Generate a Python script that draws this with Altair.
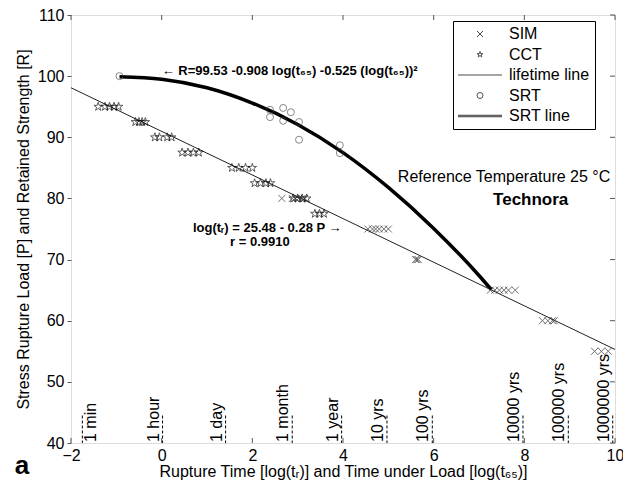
import altair as alt
import pandas as pd

FONT = "Liberation Sans"
W, H = 544, 428

# ---------------- data ----------------
x_ticks = [-2, 0, 2, 4, 6, 8, 10]
y_ticks = [40, 50, 60, 70, 80, 90, 100, 110]

cct_x = [-1.40, -1.25, -1.15, -1.05, -0.95,
         -0.58, -0.50, -0.43, -0.36,
         -0.15, -0.05, 0.12, 0.22,
         0.45, 0.58, 0.70, 0.82,
         1.55, 1.70, 1.85, 2.00,
         2.05, 2.18, 2.30, 2.40,
         2.90, 3.00, 3.10, 3.20,
         3.38, 3.48, 3.58]
cct_y = [95, 95, 95, 95, 95,
         92.5, 92.5, 92.5, 92.5,
         90, 90, 90, 90,
         87.5, 87.5, 87.5, 87.5,
         85, 85, 85, 85,
         82.5, 82.5, 82.5, 82.5,
         80, 80, 80, 80,
         77.5, 77.5, 77.5]

sim_x = [2.65, 2.88, 2.95, 3.02, 3.10, 3.15,
         4.55, 4.65, 4.72, 4.80, 4.90, 5.00,
         5.60, 5.63, 5.66,
         7.25, 7.35, 7.45, 7.55, 7.65, 7.80,
         8.40, 8.52, 8.62, 8.66,
         9.55, 9.70, 9.85]
sim_y = [80, 80, 80, 80, 80, 80,
         75, 75, 75, 75, 75, 75,
         70, 70, 70,
         65, 65, 65, 65, 65, 65,
         60, 60, 60, 60,
         55, 55, 55]

srt_x = [-0.93, 2.39, 2.39, 2.68, 2.68, 2.85, 3.03, 3.03, 3.93, 3.93]
srt_y = [100.0, 94.5, 93.3, 94.8, 92.7, 94.1, 92.5, 89.6, 88.7, 87.4]

life_x = [-2, 10]
life_y = [98.1, 55.3]

srtline_x = [-0.93, 0, 1, 2, 3, 4, 5, 6, 7, 7.27]
srtline_y = [99.9, 99.5, 98.1, 95.6, 92.1, 87.5, 81.8, 75.1, 67.4, 65.1]

marker_labels = ["1 min", "1 hour", "1 day", "1 month", "1 year", "10 yrs",
                 "100 yrs", "10000 yrs", "100000 yrs", "1000000 yrs"]
marker_x = [-1.75, 0.02, 1.41, 2.88, 3.97, 4.97, 5.97, 7.97, 8.97, 9.95]
marker_top = 44.5

legend_names = ["SIM", "CCT", "lifetime line", "SRT", "SRT line"]

ann_bold_text = ["\u2190 R=99.53 -0.908 log(t\u2086\u2085) -0.525 (log(t\u2086\u2085))\u00b2",
                 "log(t\u1d63) = 25.48 - 0.28 P \u2192",
                 "r = 0.9910"]
ann_bold_x = [0.0, 0.69, 1.51]
ann_bold_y = [100.8, 75.2, 72.9]

ref_text = ["Reference Temperature 25 \u00b0C"]
ref_x = [5.21]
ref_y = [83.5]
mat_text = ["Technora"]
mat_x = [7.31]
mat_y = [79.7]

# ---------------- styles ----------------
X_PATH = "M-1,-1L1,1M-1,1L1,-1"
STAR_PATH = ("M0,-1L0.225,-0.309L0.951,-0.309L0.363,0.118L0.588,0.809L0,0.382"
             "L-0.588,0.809L-0.363,0.118L-0.951,-0.309L-0.225,-0.309Z")
THIN_LINE = "M-7.33,0L7.33,0"
THICK_LINE = "M-7.33,-0.25L7.33,-0.25M-7.33,0L7.33,0M-7.33,0.25L7.33,0.25"

xs = alt.Scale(domain=[-2, 10], nice=False, zero=False)
ys = alt.Scale(domain=[40, 110], nice=False, zero=False)

x_axis = alt.Axis(values=x_ticks, title="Rupture Time [log(t\u1d63)] and Time under Load [log(t\u2086\u2085)]",
                  ticks=False, tickSize=0, labelPadding=4, titlePadding=0, grid=False, domain=False,
                  labelFont=FONT, titleFont=FONT, labelFontSize=16, titleFontSize=16,
                  labelColor="black", titleColor="black", titleFontWeight="normal", labelFlush=False)
y_axis = alt.Axis(values=y_ticks, title="Stress Rupture Load [P] and Retained Strength [R]",
                  tickSize=4, tickColor="#555", labelPadding=3, titlePadding=6, grid=False, domain=False,
                  labelFont=FONT, titleFont=FONT, labelFontSize=16, titleFontSize=16,
                  labelColor="black", titleColor="black", titleFontWeight="normal")


def X(field):
    return alt.X(field, type="quantitative", scale=xs, axis=x_axis)


def Y(field):
    return alt.Y(field, type="quantitative", scale=ys, axis=y_axis)


life_df = pd.DataFrame({"x": life_x, "y": life_y})
srtl_df = pd.DataFrame({"x": srtline_x, "y": srtline_y})
cct_df = pd.DataFrame({"x": cct_x, "y": cct_y})
sim_df = pd.DataFrame({"x": sim_x, "y": sim_y})
srt_df = pd.DataFrame({"x": srt_x, "y": srt_y})
mk_df = pd.DataFrame({"x": marker_x, "label": marker_labels})
xt_df = pd.DataFrame({"v": x_ticks})
yt_df = pd.DataFrame({"v": y_ticks})
ann_df = pd.DataFrame({"x": ann_bold_x, "y": ann_bold_y, "t": ann_bold_text})
ref_df = pd.DataFrame({"x": ref_x, "y": ref_y, "t": ref_text})
mat_df = pd.DataFrame({"x": mat_x, "y": mat_y, "t": mat_text})
leg_df = pd.DataFrame({"series": legend_names})

life = alt.Chart(life_df).mark_line(color="#222", strokeWidth=1, clip=True).encode(x=X("x"), y=Y("y"))
srtl = alt.Chart(srtl_df).mark_line(color="black", strokeWidth=3.5, interpolate="monotone", clip=True).encode(
    x=X("x"), y=Y("y"))
cct = alt.Chart(cct_df).mark_point(shape=STAR_PATH, size=81, color="black", strokeWidth=0.9, filled=False).encode(
    x=X("x"), y=Y("y"))
sim = alt.Chart(sim_df).mark_point(shape=X_PATH, size=49, color="#333", strokeWidth=1, filled=False).encode(
    x=X("x"), y=Y("y"))
srt = alt.Chart(srt_df).mark_point(shape="circle", size=49, color="#444", strokeWidth=0.9, filled=False).encode(
    x=X("x"), y=Y("y"))

mk_rules = alt.Chart(mk_df).transform_calculate(top=str(marker_top)).mark_rule(
    color="black", strokeWidth=1, strokeDash=[3, 2]).encode(x=X("x"), y=Y("top"), y2=alt.value(H))
mk_text_a = alt.Chart(mk_df).transform_filter("datum.label != '1 min'").mark_text(
    angle=270, align="left", baseline="bottom", dx=1, dy=-1, font=FONT, fontSize=16, color="black").encode(
    x=X("x"), y=alt.value(H), text="label:N")
mk_text_b = alt.Chart(mk_df).transform_filter("datum.label == '1 min'").mark_text(
    angle=270, align="left", baseline="top", dx=1, dy=1, font=FONT, fontSize=16, color="black").encode(
    x=X("x"), y=alt.value(H), text="label:N")

top_ticks = alt.Chart(xt_df).mark_rule(color="#555").encode(x=X("v"), y=alt.value(0), y2=alt.value(5))
bot_ticks = alt.Chart(xt_df).mark_rule(color="#555").encode(x=X("v"), y=alt.value(H), y2=alt.value(H - 5))
right_ticks = alt.Chart(yt_df).mark_rule(color="#555").encode(y=Y("v"), x=alt.value(W), x2=alt.value(W - 5))

ann = alt.Chart(ann_df).mark_text(align="left", baseline="middle", font=FONT, fontSize=13,
                                  fontWeight="bold", color="black").encode(x=X("x"), y=Y("y"), text="t:N")
ref = alt.Chart(ref_df).mark_text(align="left", baseline="middle", font=FONT, fontSize=16,
                                  color="black").encode(x=X("x"), y=Y("y"), text="t:N")
mat = alt.Chart(mat_df).mark_text(align="left", baseline="middle", font=FONT, fontSize=17,
                                  fontWeight="bold", color="black").encode(x=X("x"), y=Y("y"), text="t:N")

panel = alt.Chart(pd.DataFrame({"t": ["a"]})).mark_text(
    align="center", baseline="middle", font=FONT, fontSize=26, fontWeight="bold", color="black").encode(
    x=alt.value(-49), y=alt.value(451), text="t:N")

legend_layer = alt.Chart(leg_df).mark_point(clip=True, filled=False, color="black", size=36).encode(
    x=alt.value(-300), y=alt.value(-300),
    shape=alt.Shape("series:N",
                    scale=alt.Scale(domain=legend_names,
                                    range=[X_PATH, STAR_PATH, THIN_LINE, "circle", THICK_LINE]),
                    legend=alt.Legend(title=None, orient="none", legendX=382, legendY=6, direction="vertical",
                                      symbolSize=36, symbolStrokeWidth=1, symbolOffset=14, labelOffset=21,
                                      labelFont=FONT, labelFontSize=16, labelColor="black", labelLimit=300,
                                      padding=5, rowPadding=4.5, strokeColor="black", fillColor="white",
                                      symbolFillColor="transparent", symbolStrokeColor="black", clipHeight=16)))

chart = alt.layer(
    mk_rules, mk_text_a, mk_text_b, top_ticks, bot_ticks, right_ticks,
    life, srtl, cct, sim, srt, ann, ref, mat, panel, legend_layer
).properties(
    width=W, height=H,
    autosize=alt.AutoSizeParams(type="none"),
    padding={"left": 63, "top": 7, "right": 8, "bottom": 38},
).configure_view(stroke="#555", strokeWidth=1).configure(background="white")

chart.save("out.html", embed_options={"renderer": "svg", "actions": False})
